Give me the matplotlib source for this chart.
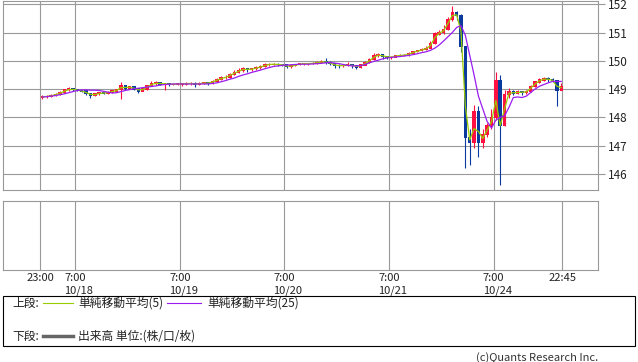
import numpy as np
import matplotlib

matplotlib.use('Agg')

from matplotlib import pyplot as plt
from matplotlib.lines import Line2D
from matplotlib.patches import Rectangle

plt.rcParams['font.family'] = ['Noto Sans CJK JP', 'DejaVu Sans']

# hourly bars, hour 0 = 10/17 23:00 (weekend hours left out of the axis)
first_open = 148.70
close = [148.73, 148.75, 148.78, 148.82, 148.88, 148.97, 149.02, 148.98, 148.95, 148.93,
         148.84, 148.76, 148.83, 148.87, 148.85, 148.89, 148.93, 148.97, 149.12, 149.03,
         149.08, 149.00, 148.93, 149.00, 149.13, 149.20, 149.22, 149.18, 149.19, 149.16,
         149.17, 149.18, 149.18, 149.20, 149.20, 149.17, 149.20, 149.22, 149.20, 149.28,
         149.35, 149.40, 149.42, 149.52, 149.60, 149.66, 149.72, 149.68, 149.72, 149.76,
         149.80, 149.86, 149.88, 149.88, 149.87, 149.86, 149.80, 149.82, 149.86, 149.90,
         149.90, 149.90, 149.92, 149.94, 149.97, 149.95, 149.90, 149.83, 149.82, 149.83,
         149.85, 149.83, 149.78, 149.85, 149.95, 150.05, 150.18, 150.22, 150.15, 150.12,
         150.13, 150.18, 150.20, 150.20, 150.26, 150.32, 150.36, 150.40, 150.45, 150.60,
         150.95, 151.00, 151.10, 151.45, 151.70, 151.60, 150.50, 147.30, 147.10, 148.20,
         147.10, 147.40, 147.70, 148.00, 149.30, 147.70, 148.80, 148.90, 148.85, 148.90,
         148.88, 148.92, 149.10, 149.25, 149.32, 149.38, 149.33, 149.30, 148.95, 149.10]
high = [148.78, 148.79, 148.82, 148.86, 148.92, 149.00, 149.06, 149.04, 149.01, 148.98,
        148.95, 148.86, 148.86, 148.90, 148.90, 148.92, 148.96, 149.00, 149.26, 149.14,
        149.12, 149.09, 149.02, 149.05, 149.16, 149.28, 149.27, 149.25, 149.22, 149.22,
        149.21, 149.22, 149.23, 149.24, 149.24, 149.24, 149.24, 149.26, 149.25, 149.32,
        149.40, 149.45, 149.48, 149.58, 149.66, 149.74, 149.78, 149.76, 149.76, 149.81,
        149.85, 149.92, 149.92, 149.92, 149.91, 149.90, 149.87, 149.86, 149.90, 149.94,
        149.94, 149.94, 149.96, 149.98, 150.02, 150.10, 149.98, 149.92, 149.88, 149.89,
        149.95, 149.88, 149.85, 149.90, 150.00, 150.10, 150.26, 150.28, 150.24, 150.17,
        150.17, 150.22, 150.24, 150.24, 150.30, 150.36, 150.40, 150.44, 150.52, 150.70,
        151.02, 151.08, 151.25, 151.55, 151.94, 151.78, 151.65, 150.50, 147.60, 148.45,
        148.40, 147.60, 147.80, 148.30, 149.60, 149.50, 148.95, 149.05, 148.98, 148.96,
        148.94, 148.98, 149.16, 149.30, 149.40, 149.44, 149.42, 149.38, 149.30, 149.20]
low = [148.66, 148.68, 148.72, 148.76, 148.80, 148.86, 148.94, 148.94, 148.92, 148.88,
       148.80, 148.68, 148.74, 148.80, 148.81, 148.83, 148.86, 148.90, 148.65, 148.98,
       149.00, 148.95, 148.85, 148.92, 148.98, 149.10, 149.15, 149.14, 148.95, 149.12,
       149.13, 149.14, 149.12, 149.15, 149.16, 149.08, 149.14, 149.17, 149.16, 149.18,
       149.26, 149.32, 149.36, 149.40, 149.48, 149.56, 149.62, 149.62, 149.64, 149.68,
       149.72, 149.78, 149.82, 149.84, 149.83, 149.82, 149.75, 149.76, 149.80, 149.84,
       149.86, 149.86, 149.87, 149.89, 149.91, 149.90, 149.84, 149.76, 149.76, 149.78,
       149.80, 149.76, 149.72, 149.76, 149.84, 149.94, 150.04, 150.14, 150.08, 150.08,
       150.08, 150.12, 150.16, 150.16, 150.18, 150.24, 150.30, 150.34, 150.38, 150.44,
       150.58, 150.90, 150.96, 151.08, 151.40, 151.45, 150.30, 146.20, 146.30, 146.90,
       146.60, 146.90, 147.30, 147.60, 147.90, 145.60, 147.70, 148.70, 148.78, 148.82,
       148.80, 148.84, 148.90, 149.06, 149.22, 149.28, 149.26, 149.24, 148.40, 148.96]
ma5 = [148.72, 148.74, 148.76, 148.80, 148.85, 148.92, 148.98, 148.99, 148.96, 148.93,
       148.88, 148.81, 148.80, 148.84, 148.86, 148.87, 148.91, 148.95, 149.05, 149.06,
       149.06, 149.03, 148.97, 148.98, 149.07, 149.16, 149.20, 149.20, 149.19, 149.17,
       149.17, 149.18, 149.18, 149.19, 149.20, 149.18, 149.19, 149.21, 149.21, 149.25,
       149.31, 149.37, 149.41, 149.48, 149.56, 149.63, 149.69, 149.70, 149.70, 149.74,
       149.78, 149.83, 149.87, 149.88, 149.87, 149.86, 149.82, 149.81, 149.84, 149.88,
       149.90, 149.90, 149.91, 149.93, 149.96, 149.96, 149.92, 149.86, 149.83, 149.83,
       149.84, 149.84, 149.80, 149.82, 149.90, 150.00, 150.12, 150.20, 150.18, 150.14,
       150.13, 150.16, 150.19, 150.20, 150.23, 150.29, 150.34, 150.38, 150.43, 150.54,
       150.82, 150.98, 151.06, 151.32, 151.60, 151.63, 151.05, 148.40, 147.20, 147.60,
       147.50, 147.25, 147.55, 147.85, 148.60, 147.70, 148.30, 148.85, 148.87, 148.88,
       148.89, 148.90, 149.03, 149.18, 149.29, 149.35, 149.35, 149.31, 149.10, 149.05]
ma25 = [148.72, 148.73, 148.75, 148.77, 148.80, 148.83, 148.87, 148.91, 148.95, 148.97,
        148.97, 148.96, 148.96, 148.95, 148.92, 148.89, 148.86, 148.87, 148.91, 148.95,
        148.98, 149.01, 149.03, 149.05, 149.07, 149.09, 149.11, 149.14, 149.16, 149.17,
        149.18, 149.18, 149.18, 149.18, 149.18, 149.18, 149.18, 149.18, 149.18, 149.20,
        149.22, 149.26, 149.30, 149.35, 149.39, 149.45, 149.50, 149.54, 149.59, 149.63,
        149.67, 149.72, 149.76, 149.80, 149.82, 149.84, 149.85, 149.86, 149.87, 149.88,
        149.88, 149.88, 149.89, 149.90, 149.91, 149.93, 149.94, 149.92, 149.90, 149.87,
        149.84, 149.82, 149.82, 149.83, 149.87, 149.93, 149.98, 150.02, 150.07, 150.10,
        150.12, 150.14, 150.15, 150.17, 150.19, 150.22, 150.25, 150.29, 150.32, 150.37,
        150.45, 150.56, 150.70, 150.85, 151.00, 151.18, 151.25, 150.90, 150.20, 149.50,
        148.75, 148.30, 147.85, 147.62, 147.90, 148.00, 148.05, 148.35, 148.70, 148.72,
        148.70, 148.75, 148.88, 149.00, 149.10, 149.16, 149.22, 149.27, 149.27, 149.27]

grid_hours = [0, 8, 32, 56, 80, 104, 119.75]
time_labels = ["23:00", "7:00", "7:00", "7:00", "7:00", "7:00", "22:45"]
date_labels = ["", "10/18", "10/19", "10/20", "10/21", "10/24", ""]
price_ticks = [146, 147, 148, 149, 150, 151, 152]

up_col = '#ff1040'
down_col = '#0a3a9e'
ma5_col = '#99cc00'
ma25_col = '#9a1cf0'
gray = '#999999'
txt = '#222222'

W, H = 638, 362
fig = plt.figure(figsize=(W / 100, H / 100), dpi=100)

ax = fig.add_axes([3.3 / W, 1 - 190.3 / H, 595 / W, 189.8 / H])
ax2 = fig.add_axes([3.3 / W, 1 - 270 / H, 595 / W, 68.7 / H], sharex=ax)

close = np.array(close)
opn = np.concatenate([[first_open], close[:-1]])
xs = np.arange(len(close)) + 0.5
up = close >= opn
cols = np.where(up, up_col, down_col)

ax.vlines(xs, low, high, colors=cols, linewidth=0.8, zorder=3)
ax.bar(xs, np.abs(close - opn) + 0.04, bottom=np.minimum(close, opn) - 0.02, width=0.8,
       color=cols, linewidth=0, zorder=3)
ax.plot(xs, ma5, color=ma5_col, linewidth=0.9, zorder=4)
ax.plot(xs, ma25, color=ma25_col, linewidth=0.9, zorder=4)

ax.set_xlim(-8.49, 128.0)
ax.set_ylim(145.416, 152.135)
ax.set_yticks(price_ticks)
ax.yaxis.tick_right()
ax.tick_params(axis='y', length=5, width=0.8, color=gray, pad=2, labelsize=8.5, labelcolor=txt)
ax.tick_params(axis='x', length=0, labelbottom=False)
ax.set_xticks(grid_hours)
ax.grid(True, color=gray, linewidth=0.8, zorder=0)
for s in ax.spines.values():
    s.set_color(gray)
    s.set_linewidth(0.8)

ax2.set_ylim(0, 1)
ax2.set_yticks([])
ax2.set_xticks(grid_hours)
ax2.set_xticklabels(time_labels)
ax2.tick_params(axis='x', length=0, pad=2, labelsize=8, labelcolor=txt)
ax2.grid(True, axis='x', color=gray, linewidth=0.8)
for s in ax2.spines.values():
    s.set_color(gray)
    s.set_linewidth(0.8)
for h, d in zip(grid_hours, date_labels):
    if d:
        ax2.annotate(d, xy=(h, 0), xycoords=('data', 'axes fraction'), xytext=(-11, -21),
                     textcoords='offset pixels', ha='left', va='center', fontsize=8,
                     color=txt, annotation_clip=False)

# legend box
fig.add_artist(Rectangle((3.3 / W, 1 - 346 / H), 631.7 / W, 50.3 / H, transform=fig.transFigure,
                         fill=False, edgecolor='black', linewidth=0.8))
fs = 8.5
fig.text(12 / W, 1 - 303 / H, "上段:", fontsize=fs, va='center', color=txt)
fig.add_artist(Line2D([43 / W, 73 / W], [1 - 303 / H] * 2, color=ma5_col, linewidth=0.8))
fig.text(78 / W, 1 - 303 / H, "単純移動平均(5)", fontsize=fs, va='center', color=txt)
fig.add_artist(Line2D([167 / W, 201 / W], [1 - 303 / H] * 2, color=ma25_col, linewidth=0.8))
fig.text(207 / W, 1 - 303 / H, "単純移動平均(25)", fontsize=fs, va='center', color=txt)
fig.text(12 / W, 1 - 336 / H, "下段:", fontsize=fs, va='center', color=txt)
fig.add_artist(Line2D([43 / W, 73 / W], [1 - 336 / H] * 2, color='#666666', linewidth=2.5))
fig.text(78 / W, 1 - 336 / H, "出来高 単位:(株/口/枚)", fontsize=fs, va='center', color=txt)

fig.text(598 / W, 1 - 357.5 / H, "(c)Quants Research Inc.", fontsize=8, ha='right', va='center',
         color='#333333')

fig.savefig("out.png", dpi=100)
